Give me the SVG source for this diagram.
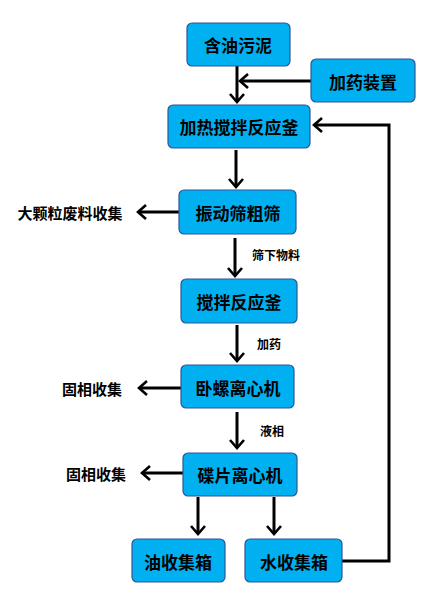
<svg xmlns="http://www.w3.org/2000/svg" width="444" height="600" viewBox="0 0 444 600">
<style>
.box{fill:#00B0F0;stroke:#2F5597;stroke-width:1.2}
.bt{font-family:"Noto Sans CJK SC",sans-serif;font-size:17px;font-weight:bold;fill:#000;text-anchor:middle;dominant-baseline:central}
.st{font-family:"Noto Sans CJK SC",sans-serif;font-size:15px;font-weight:bold;fill:#000;text-anchor:middle;dominant-baseline:central}
.lt{font-family:"Noto Sans CJK SC",sans-serif;font-size:12px;font-weight:bold;fill:#000;dominant-baseline:central}
.c{fill:none;stroke:#000;stroke-width:3;marker-end:url(#ah)}
</style>
<defs>
<marker id="ah" markerUnits="userSpaceOnUse" markerWidth="14" markerHeight="16" refX="10" refY="8" orient="auto">
<path d="M2,1 L10,8 L2,15" fill="none" stroke="#000" stroke-width="2.6"/>
</marker>
</defs>
<g id="connectors">
<line class="c" x1="237" y1="66" x2="237" y2="102"/>
<line class="c" x1="311" y1="81" x2="240" y2="81"/>
<line class="c" x1="236" y1="150" x2="236" y2="187"/>
<line class="c" x1="179" y1="212" x2="138" y2="212"/>
<line class="c" x1="235" y1="238" x2="235" y2="276"/>
<line class="c" x1="237" y1="325" x2="237" y2="361"/>
<line class="c" x1="181" y1="388" x2="139" y2="388"/>
<line class="c" x1="237" y1="412" x2="237" y2="448"/>
<line class="c" x1="183" y1="473" x2="142" y2="473"/>
<line class="c" x1="198" y1="497" x2="198" y2="534"/>
<line class="c" x1="274" y1="497" x2="274" y2="534"/>
<polyline class="c" points="342,561 389,561 389,125 314,125"/>
</g>
<g id="n1"><rect class="box" x="187" y="23" width="103" height="43" rx="5"/><text class="bt" x="238" y="44">含油污泥</text></g>
<g id="n2"><rect class="box" x="311" y="59" width="104" height="43" rx="5"/><text class="bt" x="363" y="81">加药装置</text></g>
<g id="n3"><rect class="box" x="168" y="105" width="142" height="43" rx="5"/><text class="bt" x="239" y="126">加热搅拌反应釜</text></g>
<g id="n4"><rect class="box" x="179" y="190" width="117" height="44" rx="5"/><text class="bt" x="238" y="212">振动筛粗筛</text></g>
<g id="n5"><rect class="box" x="181" y="279" width="116" height="44" rx="5"/><text class="bt" x="239" y="301">搅拌反应釜</text></g>
<g id="n6"><rect class="box" x="181" y="365" width="113" height="43" rx="5"/><text class="bt" x="238" y="387">卧螺离心机</text></g>
<g id="n7"><rect class="box" x="183" y="453" width="114" height="43" rx="5"/><text class="bt" x="240" y="474">碟片离心机</text></g>
<g id="n8"><rect class="box" x="132" y="539" width="93" height="43" rx="5"/><text class="bt" x="178" y="561">油收集箱</text></g>
<g id="n9"><rect class="box" x="245" y="539" width="97" height="43" rx="5"/><text class="bt" x="294" y="561">水收集箱</text></g>
<g id="labels">
<text class="st" x="70" y="212">大颗粒废料收集</text>
<text class="lt" x="252" y="254">筛下物料</text>
<text class="lt" x="257" y="343">加药</text>
<text class="st" x="92" y="388">固相收集</text>
<text class="lt" x="260" y="430">液相</text>
<text class="st" x="96" y="473">固相收集</text>
</g>
</svg>
